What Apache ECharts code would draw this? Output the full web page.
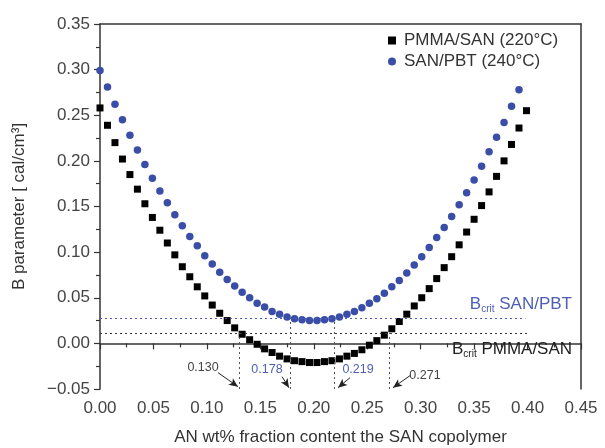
<!DOCTYPE html>
<html lang="en">

<head>
  <meta charset="UTF-8">
  <title>B parameter vs AN content</title>
  <style>
    html, body {
      margin: 0;
      padding: 0;
      background: #fff;
    }
    #main {
      width: 605px;
      height: 448px;
    }
  </style>
</head>

<body>
<div id="main"></div>
<script src="https://cdn.jsdelivr.net/npm/echarts@6/dist/echarts.min.js"></script>
<script>
  // AN wt% fraction in the SAN copolymer
  let anFraction = [0.000, 0.007, 0.014, 0.021, 0.028, 0.035, 0.042, 0.049, 0.056, 0.063,
    0.070, 0.077, 0.084, 0.091, 0.098, 0.105, 0.112, 0.119, 0.126, 0.133,
    0.140, 0.147, 0.154, 0.161, 0.168, 0.175, 0.182, 0.189, 0.196, 0.203,
    0.210, 0.217, 0.224, 0.231, 0.238, 0.245, 0.252, 0.259, 0.266, 0.273,
    0.280, 0.287, 0.294, 0.301, 0.308, 0.315, 0.322, 0.329, 0.336, 0.343,
    0.350, 0.357, 0.364, 0.371, 0.378, 0.385, 0.392, 0.399];

  // PMMA/SAN (220°C)
  let pmmaSan = [0.258, 0.239, 0.220, 0.202, 0.185, 0.169, 0.153, 0.138, 0.124, 0.110,
    0.097, 0.084, 0.073, 0.062, 0.052, 0.042, 0.033, 0.025, 0.017, 0.010,
    0.004, -0.001, -0.006, -0.010, -0.014, -0.017, -0.019, -0.020, -0.021, -0.021,
    -0.020, -0.019, -0.017, -0.014, -0.011, -0.007, -0.002, 0.003, 0.009, 0.016,
    0.024, 0.032, 0.041, 0.050, 0.060, 0.071, 0.083, 0.095, 0.108, 0.122,
    0.136, 0.151, 0.166, 0.183, 0.200, 0.218, 0.236, 0.255];

  // SAN/PBT (240°C)
  let sanPbt = [0.299, 0.281, 0.262, 0.245, 0.228, 0.212, 0.196, 0.181, 0.167, 0.154,
    0.141, 0.129, 0.117, 0.107, 0.096, 0.087, 0.078, 0.070, 0.063, 0.056,
    0.050, 0.044, 0.040, 0.035, 0.032, 0.029, 0.027, 0.026, 0.025, 0.025,
    0.026, 0.027, 0.029, 0.032, 0.035, 0.039, 0.044, 0.049, 0.055, 0.062,
    0.069, 0.077, 0.086, 0.095, 0.105, 0.116, 0.127, 0.139, 0.152, 0.165,
    0.179, 0.194, 0.210, 0.226, 0.242, 0.260, 0.278];

  // critical B values and the AN fractions where the curves cross them
  let bCritPmma = 0.0114;
  let bCritPbt = 0.0278;
  let critPmma = [0.130, 0.271];
  let critPbt = [0.178, 0.219];

  const FONT = '"Liberation Sans", Arial, sans-serif';
  const BLUE = '#3a4ea8';
  const BLUE_TXT = '#4d5fb4';
  const DARK = '#333';
  const AX_MIN = -0.05;

  let chart = echarts.init(document.getElementById('main'));

  let fmt = v => v.toFixed(2).replace('-', '\u2212');

  let dotted = color => ({type: [2, 3], color: color, width: 1});

  // dotted guide lines (vertical ones are grey)
  let vLines = (xs, top) => xs.map(x => [
    {coord: [x, AX_MIN], lineStyle: dotted('#555')},
    {coord: [x, top], lineStyle: dotted('#555')}
  ]);

  // arrows pointing from the labels to the axis: [start, end]
  let arrowStyle = {type: 'solid', color: '#222', width: 1};
  let arrow = (a, b) => [
    {coord: a, symbol: 'none', lineStyle: arrowStyle},
    {coord: b, symbol: 'arrow', symbolSize: [6, 9], lineStyle: arrowStyle}
  ];

  let txt = (x, y, s, color) => ({
    coord: [x, y], name: s,
    label: {color: color}
  });

  let option = {
    animation: false,
    textStyle: {fontFamily: FONT},
    grid: {left: 100, right: 24, top: 24, bottom: 59, containLabel: false, outerBoundsMode: 'none'},
    legend: {
      orient: 'vertical',
      left: 388,
      top: 32,
      padding: 0,
      itemWidth: 8,
      itemHeight: 8,
      itemGap: 4,
      textStyle: {fontSize: 17, color: '#333', fontFamily: FONT, padding: [0, 0, 0, 3]},
      data: [
        {name: 'PMMA/SAN (220°C)', icon: 'rect'},
        {name: 'SAN/PBT (240°C)', icon: 'circle'}
      ]
    },
    xAxis: [{
      type: 'value',
      min: 0,
      max: 0.45,
      interval: 0.05,
      name: 'AN wt% fraction content the SAN copolymer',
      nameLocation: 'middle',
      nameGap: 40,
      nameTextStyle: {fontSize: 17, color: '#333'},
      axisLine: {lineStyle: {color: DARK, width: 1.5}},
      axisTick: {length: 6, lineStyle: {color: DARK, width: 1.2}},
      minorTick: {show: true, splitNumber: 2, length: 4, lineStyle: {color: DARK, width: 1.2}},
      axisLabel: {fontSize: 17, color: '#444', margin: 11, formatter: fmt},
      splitLine: {show: false}
    }, {
      type: 'value', position: 'top', min: 0, max: 0.45,
      axisLine: {show: true, onZero: false, lineStyle: {color: DARK, width: 1.5}},
      axisTick: {show: false}, axisLabel: {show: false}, splitLine: {show: false}
    }],
    yAxis: [{
      type: 'value',
      min: AX_MIN,
      max: 0.35,
      interval: 0.05,
      name: 'B parameter [ cal/cm\u00b3]',
      nameLocation: 'middle',
      nameGap: 72,
      nameTextStyle: {fontSize: 17, color: '#333'},
      axisLine: {show: true, onZero: false, lineStyle: {color: DARK, width: 1.5}},
      axisTick: {show: true, length: 6, lineStyle: {color: DARK, width: 1.2}},
      minorTick: {show: true, splitNumber: 2, length: 4, lineStyle: {color: DARK, width: 1.2}},
      axisLabel: {fontSize: 17, color: '#444', margin: 10, formatter: fmt},
      splitLine: {show: false}
    }, {
      type: 'value', position: 'right', min: AX_MIN, max: 0.35,
      axisLine: {show: true, onZero: false, lineStyle: {color: DARK, width: 1.5}},
      axisTick: {show: false}, axisLabel: {show: false}, splitLine: {show: false}
    }],
    series: [{
      name: 'PMMA/SAN (220°C)',
      type: 'scatter',
      symbol: 'rect',
      symbolSize: 7,
      itemStyle: {color: '#000', opacity: 1},
      data: anFraction.map((x, i) => [x, pmmaSan[i]]),
      silent: true,
      markLine: {
        silent: true,
        symbol: ['none', 'none'],
        label: {show: false},
        lineStyle: dotted('#333'),
        data: [
          [{coord: [0, bCritPmma]}, {coord: [0.402, bCritPmma]}],
          ...vLines(critPmma, bCritPmma),
          arrow([0.1104, -0.0321], [0.1291, -0.0474]),
          arrow([0.2900, -0.0354], [0.2741, -0.0485]),
          arrow([0.1703, -0.0365], [0.1768, -0.0485]),
          arrow([0.2339, -0.0376], [0.2227, -0.0485])
        ]
      },
      markPoint: {
        silent: true,
        symbol: 'circle',
        symbolSize: 0,
        label: {show: true, position: 'inside', fontSize: 12.5, formatter: p => p.name},
        data: [
          txt(0.0964, -0.0266, critPmma[0].toFixed(3), '#444'),
          txt(0.3040, -0.0350, critPmma[1].toFixed(3), '#444'),
          txt(0.1562, -0.0288, critPbt[0].toFixed(3), BLUE_TXT),
          txt(0.2414, -0.0288, critPbt[1].toFixed(3), BLUE_TXT),
          {
            coord: [0.3293, -0.0060], name: 'pmma',
            label: {
              position: 'right', distance: 0,
              formatter: '{b|B}{s|crit}{b| PMMA/SAN}',
              rich: {
                b: {fontSize: 17, color: '#222', fontFamily: FONT},
                s: {fontSize: 10, color: '#222', fontFamily: FONT, padding: [11, 0, 0, 0]}
              }
            }
          },
          {
            coord: [0.3460, 0.0430], name: 'pbt',
            label: {
              position: 'right', distance: 0,
              formatter: '{b|B}{s|crit}{b| SAN/PBT}',
              rich: {
                b: {fontSize: 17, color: BLUE_TXT, fontFamily: FONT},
                s: {fontSize: 10, color: BLUE_TXT, fontFamily: FONT, padding: [11, 0, 0, 0]}
              }
            }
          }
        ]
      }
    }, {
      name: 'SAN/PBT (240°C)',
      type: 'scatter',
      symbol: 'circle',
      symbolSize: 7.5,
      itemStyle: {color: BLUE, opacity: 1},
      data: sanPbt.map((y, i) => [anFraction[i], y]),
      silent: true,
      markLine: {
        silent: true,
        symbol: ['none', 'none'],
        label: {show: false},
        lineStyle: dotted('#4a5ec0'),
        data: [
          [{coord: [0, bCritPbt]}, {coord: [0.398, bCritPbt]}],
          ...vLines(critPbt, bCritPbt)
        ]
      }
    }]
  };

  chart.setOption(option);
</script>
</body>

</html>
